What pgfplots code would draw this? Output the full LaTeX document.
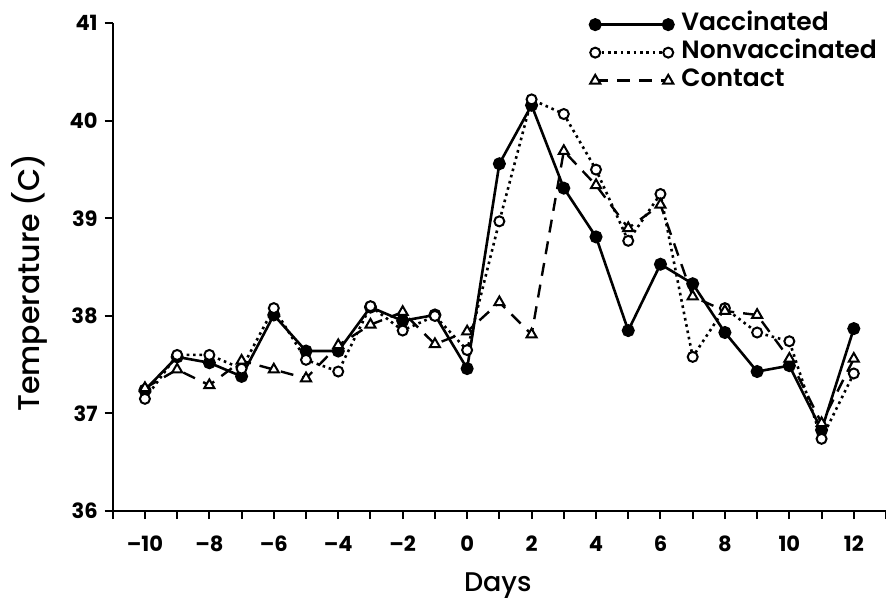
\documentclass[border=0pt]{standalone}
\usepackage{fontspec}
\setmainfont{Poppins}
\newfontfamily\medfont{Poppins SemiBold}
\newfontfamily\labfont{Poppins Medium}
\usepackage{pgfplots}
\pgfplotsset{compat=1.18}
\begin{document}
\begin{tikzpicture}
\path[use as bounding box] (0,0) rectangle (443pt,300pt);
\begin{axis}[
  at={(56.35pt,44.5pt)}, anchor=south west,
  scale only axis, width=386.65pt, height=243.85pt,
  xmin=-11, xmax=13, ymin=36, ymax=41,
  axis x line*=bottom, axis y line*=left,
  axis line style={line width=1pt},
  tick align=outside,
  major tick length=4pt, minor tick length=4pt,
  tick style={line width=1pt, black},
  xtick={-10,-8,...,12},
  xticklabels={\textendash10,\textendash8,\textendash6,\textendash4,\textendash2,0,2,4,6,8,10,12},
  minor xtick={-11,-9,...,13},
  ytick={36,37,38,39,40,41},
  yticklabels={36,37,38,39,40,41},
  tick label style={font=\bfseries\fontsize{10.5}{12}\selectfont},
  xticklabel style={yshift=-5pt},
  xlabel={Days},
  ylabel={Temperature (C)},
  xlabel style={font=\labfont\fontsize{13.5}{15}\selectfont, at={(axis description cs:0.498,-0.152)}, anchor=center},
  ylabel style={font=\labfont\fontsize{15}{17}\selectfont, at={(axis description cs:-0.108,0.4685)}, anchor=center},
  legend style={at={(axis description cs:0.609,1.035)}, anchor=north west,
    draw=none, fill=none, font=\medfont\fontsize{12.5}{14}\selectfont,
    row sep=0pt, column sep=3pt,
    nodes={inner sep=1pt, text height=9pt, text depth=3pt}},
  legend cell align=left,
  legend image code/.code={\draw[#1] plot coordinates {(0pt,0pt) (36.5pt,0pt)};},
]
\addplot[black, line width=1.3pt, mark=*, mark size=2.6pt, mark options={solid}] coordinates {
(-10,37.24) (-9,37.58) (-8,37.52) (-7,37.38) (-6,38.01) (-5,37.64) (-4,37.64)
(-3,38.09) (-2,37.95) (-1,38.01) (0,37.46) (1,39.56) (2,40.16) (3,39.31)
(4,38.81) (5,37.85) (6,38.53) (7,38.33) (8,37.83) (9,37.43) (10,37.49)
(11,36.83) (12,37.87)};
\addlegendentry{Vaccinated}
\addplot[black, line width=1.3pt, dash pattern=on 1.3pt off 1.9pt, mark=*, mark size=2.5pt, mark options={solid, fill=white, line width=1pt}] coordinates {
(-10,37.15) (-9,37.60) (-8,37.60) (-7,37.46) (-6,38.08) (-5,37.55) (-4,37.43)
(-3,38.10) (-2,37.85) (-1,38.00) (0,37.65) (1,38.97) (2,40.22) (3,40.07)
(4,39.50) (5,38.77) (6,39.25) (7,37.58) (8,38.08) (9,37.83) (10,37.74)
(11,36.74) (12,37.41)};
\addlegendentry{Nonvaccinated}
\addplot[black, line width=1.2pt, dash pattern=on 6.5pt off 4.5pt, mark=triangle*, mark size=2.9pt, mark options={solid, fill=white, line width=1pt}] coordinates {
(-10,37.26) (-9,37.45) (-8,37.29) (-7,37.54) (-6,37.45) (-5,37.36) (-4,37.70)
(-3,37.91) (-2,38.04) (-1,37.71) (0,37.84) (1,38.14) (2,37.81) (3,39.69)
(4,39.34) (5,38.90) (6,39.14) (7,38.20) (8,38.05) (9,38.01) (10,37.56)
(11,36.90) (12,37.56)};
\addlegendentry{Contact}
\end{axis}
\end{tikzpicture}
\end{document}
